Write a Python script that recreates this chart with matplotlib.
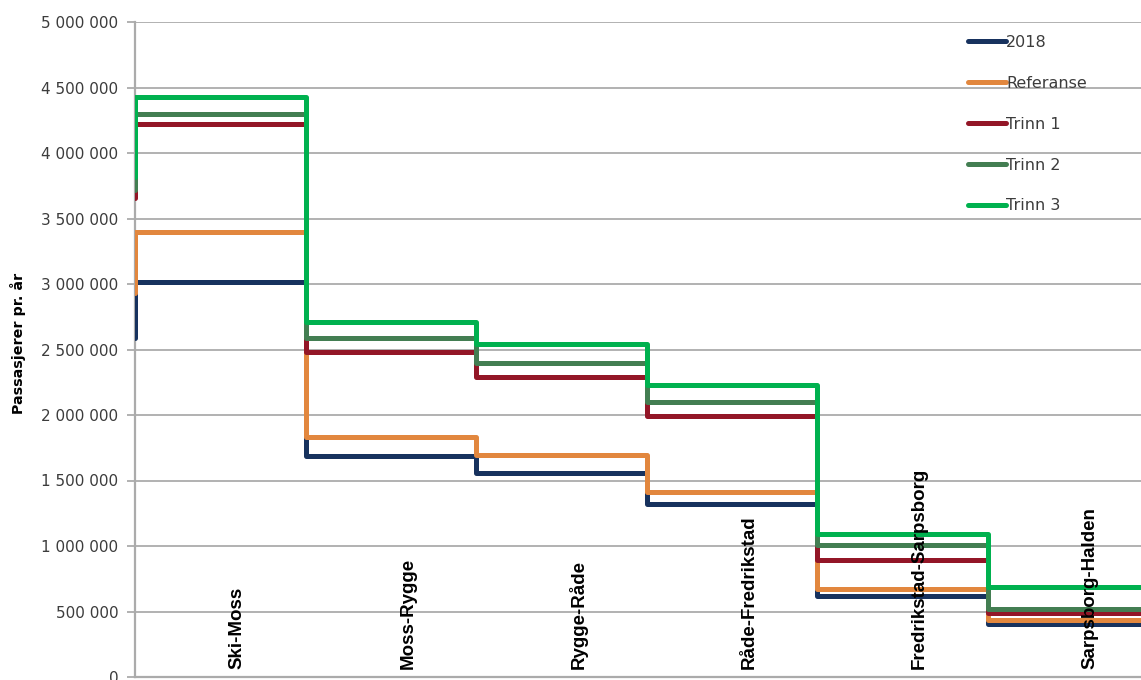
import matplotlib
matplotlib.use("Agg")
import matplotlib.pyplot as plt
from matplotlib.ticker import FuncFormatter

# Passenger volumes per line section (passengers per year)
sections = ["Ski-Moss", "Moss-Rygge", "Rygge-Råde", "Råde-Fredrikstad",
            "Fredrikstad-Sarpsborg", "Sarpsborg-Halden"]
series_names = ["2018", "Referanse", "Trinn 1", "Trinn 2", "Trinn 3"]

# Value carried in from the section before Ski (left edge)
start_2018 = 2_590_000
start_ref = 2_930_000
start_t1 = 3_660_000
start_t2 = 3_720_000
start_t3 = 3_820_000

vals_2018 = [3_015_000, 1_690_000, 1_560_000, 1_323_000, 616_000, 405_000]
vals_ref = [3_395_000, 1_830_000, 1_692_000, 1_415_000, 672_000, 435_000]
vals_t1 = [4_220_000, 2_478_000, 2_288_000, 1_990_000, 893_000, 486_000]
vals_t2 = [4_297_000, 2_587_000, 2_394_000, 2_097_000, 1_008_000, 521_000]
vals_t3 = [4_430_000, 2_712_000, 2_545_000, 2_229_000, 1_092_000, 689_000]

yticks = list(range(0, 5_000_001, 500_000))

colors = ["#17325E", "#E2873E", "#931627", "#437E52", "#00B14F"]
starts = [start_2018, start_ref, start_t1, start_t2, start_t3]
series = [vals_2018, vals_ref, vals_t1, vals_t2, vals_t3]

W, H = 1141, 680
fig = plt.figure(figsize=(W / 100, H / 100), dpi=100)
ax = fig.add_axes([135 / W, 3 / H, 1023 / W, 655 / H])

n = len(sections)
xs = [0] + list(range(n + 1))
for name, col, s0, vals in zip(series_names, colors, starts, series):
    ys = [s0] + list(vals) + [vals[-1]]
    ax.step(xs, ys, where="post", color=col, lw=3.6, label=name,
            solid_joinstyle="round", solid_capstyle="round", zorder=3)

ax.set_xlim(0, n)
ax.set_ylim(0, 5_000_000)
ax.set_yticks(yticks)
ax.yaxis.set_major_formatter(FuncFormatter(lambda v, p: f"{v:,.0f}".replace(",", " ")))
ax.set_xticks([])

grid_col = "#ABABAB"
ax.grid(axis="y", color=grid_col, lw=1.3, zorder=0)
for side in ["top", "right"]:
    ax.spines[side].set_visible(False)
for side in ["left", "bottom"]:
    ax.spines[side].set_color(grid_col)
    ax.spines[side].set_linewidth(1.6)
ax.tick_params(axis="y", length=6, width=1.3, color=grid_col,
               labelsize=11, labelcolor="#3C3C3C", pad=6)

# Section names, rotated inside the plot near the baseline
for i, sec in enumerate(sections):
    ax.text(i + 0.6, 0.012, sec, transform=ax.get_xaxis_transform(),
            rotation=90, ha="center", va="bottom", fontsize=13.5,
            fontweight="bold", family="Liberation Sans", color="black",
            zorder=4)

fig.text(18 / W, 1 - 343 / H, "Passasjerer pr. år", rotation=90,
         ha="center", va="center", fontsize=10.3, fontweight="bold",
         color="black")

leg = ax.legend(loc="upper left", bbox_to_anchor=(968 / W, 1 - 35 / H),
                bbox_transform=fig.transFigure, frameon=False,
                fontsize=11.5, labelspacing=1.62, handlelength=2.35,
                handletextpad=0.05, borderpad=0, borderaxespad=0)
for t in leg.get_texts():
    t.set_color("#3C3C3C")
for h in leg.get_lines():
    h.set_linewidth(3.6)

fig.savefig("out.png", dpi=100)
